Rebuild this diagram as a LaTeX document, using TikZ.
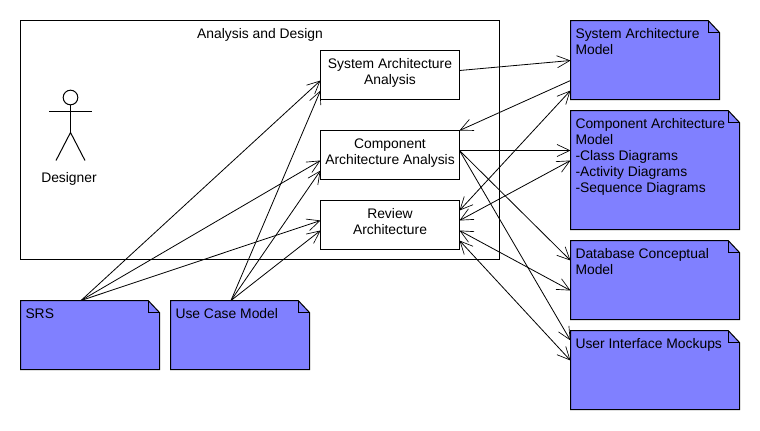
\documentclass[tikz,border=0pt]{standalone}
\usepackage{fontspec}
\setmainfont{Liberation Sans}
\usetikzlibrary{arrows.meta,calc,positioning}
\definecolor{notefill}{HTML}{8080FF}
\tikzset{
	boxnode/.style={draw, anchor=north west, inner sep=0pt, outer sep=0pt, align=center, text depth=5.5pt, minimum width=104.25pt, minimum height=36.75pt},
	notebody/.style={anchor=north west, inner sep=0pt, outer sep=0pt},
	notetext/.style={anchor=north west, inner xsep=3.75pt, inner ysep=6pt, outer sep=0pt, align=left},
	flow/.style={line width=0.6pt, -{Straight Barb[length=9.5pt,width=9pt,line width=0.5pt]}},
	flowboth/.style={line width=0.6pt, {Straight Barb[length=9.5pt,width=9pt,line width=0.5pt]}-{Straight Barb[length=9.5pt,width=9pt,line width=0.5pt]}}
}
\def\notebox[#1](#2,#3)(#4,#5)#6{
	\node[notebody, minimum width=#4*0.75pt, minimum height=#5*0.75pt] (#1) at (#2, #3) {};
	\draw[fill=notefill] (#1.north west) -- ([xshift=-8.5pt]#1.north east) -- ([yshift=-9pt]#1.north east) -- (#1.south east) -- (#1.south west) -- cycle;
	\draw ([xshift=-8.5pt]#1.north east) |- ([yshift=-9pt]#1.north east);
	\node[notetext] (#1text) at (#1.north west) {#6};
}

\begin{document}
\begin{tikzpicture}[x=0.75pt, y=-0.75pt, line width=0.75pt, font=\fontsize{10.4pt}{12pt}\selectfont]
	\useasboundingbox (0, 0) rectangle (760, 430);
	%%%%% frame and actor %%%%%

	\node[draw, anchor=north west, inner sep=0pt, outer sep=0pt, minimum width=359.25pt, minimum height=179.25pt] (frame) at (20.5, 20.5) {};
	\node[below=4.8pt of frame.north, inner sep=1pt] (frametitle) {Analysis and Design};

	\node[draw, circle, inner sep=0pt, outer sep=0pt, minimum size=11pt] (head) at (70.5, 97.5) {};
	\coordinate (hip) at (70.5, 132.5);
	\coordinate (armL) at (49, 111.5);
	\coordinate (armR) at (92, 111.5);
	\coordinate (footL) at (56, 160.5);
	\coordinate (footR) at (85, 160.5);
	\draw (head) -- (hip);
	\draw (armL) -- (armR);
	\draw (footL) -- (hip) -- (footR);
	\node[inner sep=0pt] (designer) at (69, 179) {Designer};

	%%%%% activities %%%%%

	\node[boxnode] (sysA) at (320.5, 50.5) {System Architecture\\Analysis};
	\node[boxnode] (compA) at (320.5, 130.5) {Component\\Architecture Analysis};
	\node[boxnode] (review) at (320.5, 200.5) {Review\\Architecture};

	%%%%% artifacts %%%%%

	\notebox[sysM](570.5, 20.5)(149, 79){System Architecture\\Model}
	\notebox[compM](570.5, 110.5)(169, 119){Component Architecture\\Model\\-Class Diagrams\\-Activity Diagrams\\-Sequence Diagrams}
	\notebox[dbM](570.5, 240.5)(169, 79){Database Conceptual\\Model}
	\notebox[uiM](570.5, 330.5)(169, 79){User Interface Mockups}
	\notebox[srs](20.5, 300.5)(139, 69){SRS}
	\notebox[useCase](170.5, 300.5)(139, 69){Use Case Model}

	%%%%% connectors %%%%%

	\coordinate (srsOut) at ($(srs.north west)+(60.5, 0)$);
	\coordinate (useCaseOut) at ($(useCase.north west)+(60.5, 0)$);

	\draw[flow] (srsOut) -- ($(sysA.north west)+(0, 30)$);
	\draw[flow] (useCaseOut) -- ($(sysA.north west)+(0, 40)$);
	\draw[flow] (srsOut) -- ($(compA.north west)+(0, 30)$);
	\draw[flow] (useCaseOut) -- ($(compA.north west)+(0, 40)$);
	\draw[flow] (srsOut) -- ($(review.north west)+(0, 20)$);
	\draw[flow] (useCaseOut) -- ($(review.north west)+(0, 30)$);

	\draw[flow] ($(sysA.north east)+(0, 20)$) -- ($(sysM.north west)+(0, 40)$);
	\draw[flow] ($(sysM.north west)+(0, 60)$) -- (compA.north east);
	\draw[flowboth] ($(review.north east)+(0, 10)$) -- ($(sysM.north west)+(0, 70)$);

	\draw[flow] ($(compA.north east)+(0, 20)$) -- ($(compM.north west)+(0, 40)$);
	\draw[flowboth] ($(review.north east)+(0, 20)$) -- ($(compM.north west)+(0, 50)$);

	\draw[flow] ($(compA.north east)+(0, 20)$) -- ($(dbM.north west)+(0, 20)$);
	\draw[flow] ($(compA.north east)+(0, 20)$) -- ($(uiM.north west)+(0, 10)$);
	\draw[flowboth] ($(review.north east)+(0, 30)$) -- ($(dbM.north west)+(0, 50)$);
	\draw[flowboth] ($(review.north east)+(0, 40)$) -- ($(uiM.north west)+(0, 30)$);
\end{tikzpicture}
\end{document}
